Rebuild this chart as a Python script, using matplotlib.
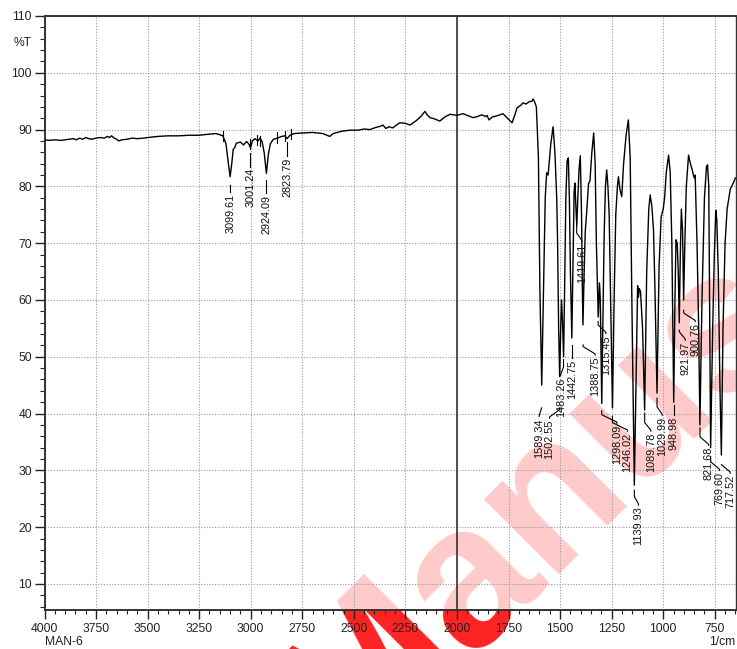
import matplotlib
matplotlib.use("Agg")
import matplotlib.pyplot as plt
from matplotlib.patches import Rectangle
from matplotlib.ticker import MultipleLocator

plt.rcParams['font.family'] = ['Liberation Sans', 'DejaVu Sans']

# ---------------- data ----------------
wavenumber = [
    4000, 3980, 3950, 3920, 3900, 3880, 3860, 3845, 3830, 3815, 3800, 3785, 3770, 3750,
    3730, 3710, 3695, 3685, 3675, 3662, 3650, 3640, 3625, 3600, 3575, 3550, 3520, 3500,
    3450, 3400, 3350, 3300, 3250, 3200, 3170, 3150, 3135, 3120, 3110, 3100, 3092, 3085,
    3078, 3070, 3050, 3035, 3020, 3010, 3001, 2992, 2980, 2965, 2955, 2945, 2935, 2924,
    2915, 2905, 2890, 2870, 2850, 2835, 2824, 2810, 2790, 2750, 2700, 2650, 2630, 2617,
    2600, 2560, 2519, 2480, 2450, 2422, 2400, 2370, 2359, 2345, 2330, 2311, 2290, 2277,
    2250, 2228, 2200, 2175, 2160, 2155, 2145, 2130, 2110, 2083, 2060, 2034, 2000, 1971,
    1950, 1922, 1900, 1880, 1860, 1854, 1845, 1830, 1800, 1777, 1755, 1733, 1720, 1709,
    1690, 1680, 1665, 1650, 1636, 1631, 1625, 1615, 1605, 1598, 1589, 1580, 1572, 1565,
    1558, 1545, 1534, 1525, 1516, 1512, 1507, 1502, 1497, 1493, 1488, 1483, 1478, 1472,
    1466, 1460, 1455, 1450, 1443, 1437, 1432, 1428, 1423, 1419, 1414, 1408, 1402, 1396,
    1392, 1389, 1384, 1378, 1370, 1362, 1355, 1346, 1337, 1330, 1324, 1315, 1309, 1305,
    1298, 1293, 1286, 1280, 1274, 1268, 1262, 1256, 1246, 1238, 1230, 1222, 1217, 1210,
    1201, 1192, 1180, 1169, 1160, 1152, 1140, 1130, 1124, 1120, 1116, 1110, 1100, 1090,
    1080, 1070, 1063, 1055, 1047, 1040, 1030, 1020, 1010, 1000, 993, 985, 974, 966,
    958, 949, 943, 938, 932, 927, 922, 917, 912, 906, 901, 895, 888, 877,
    868, 860, 850, 845, 836, 828, 822, 812, 800, 790, 785, 779, 770, 760,
    752, 745, 740, 733, 725, 718, 710, 700, 690, 675, 660, 650,
]
transmittance = [
    88.2, 88.1, 88.2, 88.1, 88.2, 88.3, 88.4, 88.2, 88.5, 88.3, 88.6, 88.4, 88.3, 88.5,
    88.6, 88.5, 88.8, 88.6, 88.9, 88.5, 88.3, 88.0, 88.2, 88.3, 88.5, 88.4, 88.5, 88.6,
    88.8, 88.9, 88.9, 89.0, 89.0, 89.2, 89.3, 89.1, 88.9, 87.5, 84.5, 81.7, 84.0, 86.5,
    86.8, 87.6, 87.8, 87.3, 87.9, 87.5, 86.8, 88.0, 88.4, 88.0, 88.5, 87.9, 86.0, 82.3,
    85.5, 87.5, 88.3, 88.5, 88.8, 88.9, 88.4, 89.0, 89.3, 89.4, 89.5, 89.3, 89.0, 88.8,
    89.3, 89.7, 89.9, 89.9, 90.1, 90.0, 90.3, 90.6, 90.8, 90.2, 90.5, 90.3, 90.9, 91.2,
    91.1, 90.8, 91.5, 92.3, 93.0, 93.2, 92.6, 92.1, 91.9, 91.5, 92.2, 92.7, 92.5, 92.8,
    92.5, 92.1, 92.3, 92.6, 92.3, 92.5, 91.7, 92.2, 92.5, 92.8, 92.0, 91.2, 92.5, 93.8,
    94.3, 94.7, 94.5, 94.9, 95.0, 95.4, 95.0, 94.0, 85.0, 62.0, 45.0, 62.0, 78.0, 82.4,
    82.0, 87.5, 90.5, 86.0, 77.6, 70.0, 55.0, 46.5, 55.0, 60.0, 56.0, 50.0, 62.0, 78.0,
    84.5, 85.0, 78.0, 65.0, 53.3, 68.0, 79.0, 80.6, 76.0, 73.0, 78.0, 83.0, 85.4, 75.0,
    62.0, 55.6, 64.0, 72.0, 76.0, 80.5, 81.0, 86.0, 89.4, 84.0, 70.0, 57.0, 63.0, 60.0,
    41.8, 55.0, 72.0, 80.0, 82.9, 80.0, 75.0, 62.0, 41.0, 60.0, 75.0, 80.0, 81.7, 79.5,
    78.2, 84.0, 89.0, 91.7, 85.0, 60.0, 27.4, 50.0, 62.5, 60.5, 62.0, 61.5, 55.0, 40.6,
    65.0, 76.0, 78.5, 76.5, 72.3, 62.0, 43.6, 66.0, 74.6, 76.0, 78.1, 82.5, 85.5, 82.5,
    70.0, 42.0, 60.0, 70.6, 70.0, 65.0, 56.0, 68.0, 76.0, 72.0, 60.0, 70.0, 80.0, 85.5,
    84.0, 83.0, 81.5, 82.0, 70.0, 55.0, 38.0, 60.0, 78.0, 83.5, 83.8, 80.0, 34.0, 55.0,
    68.0, 75.8, 74.0, 65.0, 45.0, 32.7, 55.0, 70.0, 76.0, 79.5, 80.6, 81.5,
]

peak_labels = ["3099.61", "3001.24", "2924.09", "2823.79", "1589.34", "1502.55",
               "1483.26", "1442.75", "1419.61", "1388.75", "1315.45", "1298.09",
               "1246.02", "1139.93", "1089.78", "1029.99", "948.98", "921.97",
               "900.76", "821.68", "769.60", "717.52"]
label_pos_x = [3100, 3001, 2924, 2824, 1601, 1551, 1497, 1443, 1395, 1330, 1278, 1225,
               1173, 1120, 1060, 1005, 949, 893, 845, 780, 727, 675]
leader_top = [80.2, 85.8, 81.1, 87.9, 41.0, 41.0, 49.5, 52.0, 72.9, 52.1, 56.2, 40.5,
              39.5, 26.5, 40.1, 42.7, 41.5, 54.7, 58.2, 37.5, 32.4, 31.0]
text_top = [78.7, 83.2, 78.5, 85.0, 39.2, 38.9, 46.4, 49.4, 70.0, 50.0, 53.8, 38.0,
            36.6, 23.6, 36.6, 39.4, 39.4, 52.6, 55.9, 34.1, 29.7, 29.2]

marker_x = [3134, 3005, 2972, 2956, 2872, 2835, 2807]
marker_y = [88.9, 87.4, 88.2, 88.0, 88.6, 88.9, 89.2]

x_ticks = [4000, 3750, 3500, 3250, 3000, 2750, 2500, 2250, 2000, 1750, 1500, 1250, 1000, 750]
y_ticks = [10, 20, 30, 40, 50, 60, 70, 80, 90, 100, 110]

# ---------------- figure ----------------
W, H = 737, 649
fig = plt.figure(figsize=(W / 100, H / 100), dpi=100)
fig.patch.set_facecolor('white')
L, R, T, B = 44.5, 736.0, 16.0, 609.5
ax = fig.add_axes([L / W, 1 - B / H, (R - L) / W, (B - T) / H])
ax.set_facecolor('none')

# watermark (pink inside plot, saturated red outside)
wm_kw = dict(rotation=45, rotation_mode='anchor', ha='left', va='baseline',
             fontsize=144, fontweight='bold', zorder=-5)
wx, wy = 350, 770
t_in = fig.text(wx / W, 1 - wy / H, "Manuscript", color='#ffcaca', **wm_kw)
t_in.set_clip_path(Rectangle((L / W, 1 - B / H), (R - L) / W, (B - T) / H,
                             transform=fig.transFigure))
t_out = fig.text(wx / W, 1 - wy / H, "Manuscript", color='#ff2222', **wm_kw)
t_out.set_clip_path(Rectangle((0, 0), 1, 1 - B / H, transform=fig.transFigure))

ax.plot(wavenumber, transmittance, color='black', lw=1.0, zorder=3)

ax.set_xlim(4000, 647)
ax.set_ylim(5.5, 110)

ax.axvline(2000, color='#333333', lw=1.2, zorder=2)

# peak range markers
for mx, my in zip(marker_x, marker_y):
    ax.plot([mx, mx], [my - 0.9, my + 0.9], color='black', lw=0.8, zorder=3)

# peak labels with leaders
for lab, lx, lt, tt in zip(peak_labels, label_pos_x, leader_top, text_top):
    px = float(lab)
    k2 = tt + 0.5
    k1 = k2 + 1.3
    if abs(lx - px) < 3:
        xs, ys = [px, px], [lt, tt + 0.3]
    else:
        xs, ys = [px, px, lx, lx], [lt, k1, k2, tt + 0.3]
    ax.plot(xs, ys, color='black', lw=0.8, zorder=4)
    ax.text(lx, tt, lab, rotation=90, ha='center', va='top', fontsize=7.8,
            color='#111111', zorder=5)

# ticks
ax.set_xticks(x_ticks)
ax.set_xticklabels([str(v) for v in x_ticks])
ax.xaxis.set_minor_locator(MultipleLocator(50))
ax.set_yticks(y_ticks)
ax.set_yticklabels([str(v) for v in y_ticks])
ax.yaxis.set_minor_locator(MultipleLocator(2))
ax.tick_params(axis='x', which='major', direction='out', length=6.5, width=1.0,
               labelsize=8.7, pad=3, colors='#222222')
ax.tick_params(axis='x', which='minor', direction='out', length=3.2, width=0.8,
               colors='#222222')
ax.tick_params(axis='y', which='major', direction='out', length=7.0, width=1.0,
               labelsize=8.7, pad=2, colors='#222222')
ax.tick_params(axis='y', which='minor', direction='out', length=3.6, width=0.8,
               colors='#222222')

ax.grid(True, which='major', color='#9a9a9a', lw=0.8, linestyle=(0, (1, 1.5)), zorder=1)

for side in ['left', 'top', 'bottom']:
    ax.spines[side].set_linewidth(1.4)
    ax.spines[side].set_color('#333333')
ax.spines['right'].set_linewidth(1.0)
ax.spines['right'].set_color('#333333')

fig.text(32 / W, 1 - 43 / H, "%T", ha='right', va='center', fontsize=8.7, color='#222222')
fig.text(45 / W, 1 - 642 / H, "MAN-6", ha='left', va='center', fontsize=8.7, color='#222222')
fig.text(735 / W, 1 - 642 / H, "1/cm", ha='right', va='center', fontsize=8.7, color='#222222')

fig.savefig("out.png", dpi=100)
